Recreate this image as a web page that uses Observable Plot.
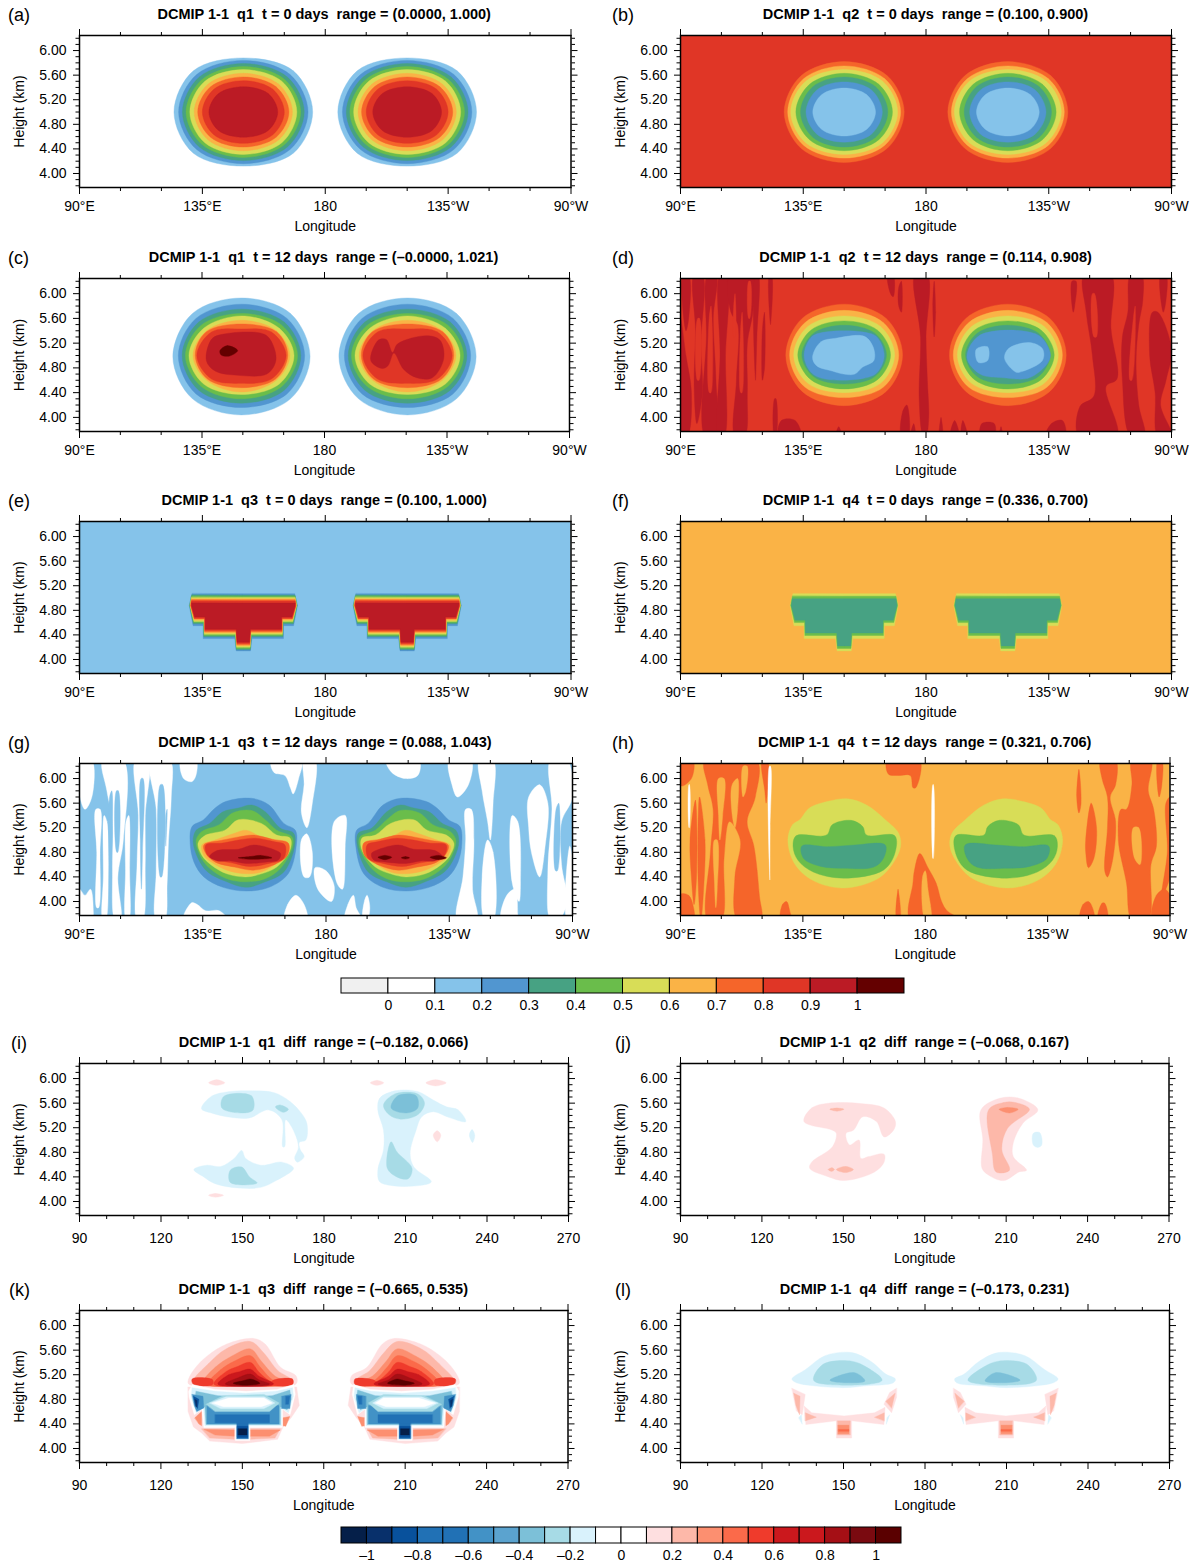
<!DOCTYPE html>
<html><head><meta charset="utf-8">
<script src="https://cdn.jsdelivr.net/npm/d3@7"></script>
<script src="https://cdn.jsdelivr.net/npm/@observablehq/plot@0.6"></script>
<style>
html,body{margin:0;padding:0;background:#fff}
#page{position:relative;width:1195px;height:1564px;font-family:"Liberation Sans",Arial,sans-serif;overflow:hidden;color:#000}
#page>div.t{position:absolute;white-space:pre;transform:translate(-50%,-50%);font-weight:bold;font-size:14.5px}
#page>div.l{position:absolute;white-space:pre;transform:translateY(-50%);font-size:18px}
#page>svg,#page>figure{position:absolute;margin:0}
</style></head><body><div id="page"></div>
<script>
// ---- colour levels ----
const mixBreaks=[-0.1,0,0.1,0.2,0.3,0.4,0.5,0.6,0.7,0.8,0.9,1,1.1];
const mixColors=["#f0f0f0","#ffffff","#85c3ea","#5196d0","#47a283","#6abd4b","#d8dd57","#fab346","#f5652a","#e03626","#bb1b25","#640000"];
const mixLabels=[0,0.1,0.2,0.3,0.4,0.5,0.6,0.7,0.8,0.9,1];
const diffBreaks=[-1.1,-1,-0.9,-0.8,-0.7,-0.6,-0.5,-0.4,-0.3,-0.2,-0.1,0,0.1,0.2,0.3,0.4,0.5,0.6,0.7,0.8,0.9,1,1.1];
const diffColors=["#051f49","#08306b","#08519c","#2171b5","#2171b5","#4292c6","#5ba3cf","#7cc0d8","#a7dbe6","#d9f2fc","#ffffff","#ffffff","#fedfe0","#fdb8a9","#fc8f70","#fb6a4a","#ef3b2c","#cb181d","#cb181d","#a50f15","#7a0a10","#5a0000"];
const diffLabels=[-1,-0.8,-0.6,-0.4,-0.2,0,0.2,0.4,0.6,0.8,1];
// ---- axes ----
const geoTicks=[90,135,180,225,270];
const geoLabels=["90°E","135°E","180","135°W","90°W"];
const geoMinor=[105,120,150,165,195,210,240,255];
const numTicks=[90,120,150,180,210,240,270];
const numMinor=[100,110,130,140,160,170,190,200,220,230,250,260];
const hTicks=[4,4.4,4.8,5.2,5.6,6];
const hMinor=[3.8,3.9,4.1,4.2,4.3,4.5,4.6,4.7,4.9,5,5.1,5.3,5.4,5.5,5.7,5.8,5.9,6.1,6.2];
const bgBox=[80,7,280,7,280,3,80,3];

// ---- contours: [level, half-outline as dlon,height from top to bottom] ----
const ringsA=[
[2,[0,5.88,18.3,5.67,25.4,5,18.3,4.33,0,4.12]],
[3,[0,5.84,17.1,5.61,23.7,5,17.1,4.39,0,4.16]],
[4,[0,5.79,16.1,5.57,22.3,5,16.1,4.43,0,4.21]],
[5,[0,5.74,15.1,5.53,21,5,15.1,4.47,0,4.26]],
[6,[0,5.69,14.1,5.5,19.6,5,14.1,4.5,0,4.31]],
[7,[0,5.63,13,5.45,18,5,13,4.55,0,4.37]],
[8,[0,5.57,12,5.41,16.7,5,12,4.59,0,4.43]],
[9,[0,5.51,10.8,5.37,15,5,10.8,4.63,0,4.49]],
[10,[0,5.41,9.1,5.3,12.6,5,9.1,4.7,0,4.59]]];
const ringsB=[
[8,[0,5.82,15.8,5.59,22,5,15.8,4.41,0,4.18]],
[7,[0,5.75,14.9,5.54,20.7,5,14.9,4.46,0,4.25]],
[6,[0,5.69,14.1,5.5,19.6,5,14.1,4.5,0,4.31]],
[5,[0,5.63,12.7,5.45,17.7,5,12.7,4.55,0,4.37]],
[4,[0,5.57,11.5,5.41,16,5,11.5,4.59,0,4.43]],
[3,[0,5.49,10,5.36,14,5,10,4.64,0,4.51]],
[2,[0,5.39,8.3,5.28,11.5,5,8.3,4.72,0,4.61]]];
const ringsC=[
[2,[0,5.93,18,5.68,25.2,4.98,18,4.3,0,4.04]],
[3,[0,5.83,16.7,5.6,23.2,5,16.7,4.38,0,4.16]],
[4,[0,5.75,15.7,5.54,21.8,5,15.7,4.44,0,4.23]],
[5,[0,5.68,14.8,5.49,20.6,5,14.8,4.5,0,4.3]],
[6,[0,5.64,13.9,5.44,19.3,5,13.9,4.54,0,4.37]],
[7,[0,5.57,12.8,5.4,17.8,5,12.8,4.6,0,4.41]],
[8,[0,5.51,13,5.38,17,5,12.5,4.62,0,4.48]],
[9,[0,5.43,11,5.38,16.4,5,11,4.62,0,4.55]]];
const coreCL=[10,[136.6,4.92,138.3,5.25,141.2,5.33,158.1,5.34,161.6,5.11,162,4.89,158.8,4.7,148.2,4.68,139.8,4.75]];
const coreCL2=[11,[141.6,5.08,144.2,5.16,148.1,5.08,144.9,4.99,142,5.01]];
const coreCR=[10,[197,4.92,199.8,5.25,202.7,5.26,205,5.05,206.9,5.19,217.5,5.32,222.4,5.25,223.8,4.95,219.6,4.64,213.9,4.64,209,4.78,205.5,5.04,203.4,4.84,201.2,4.79]];
const ringsD=[
[8,[0,5.83,15.4,5.6,21.4,5.01,15.4,4.42,0,4.19]],
[7,[0,5.73,14.4,5.53,20,5.01,14.4,4.49,0,4.32]],
[6,[0,5.64,13.3,5.47,18.5,5.01,13.3,4.55,0,4.4]],
[5,[0,5.56,12.2,5.41,17,5.01,12.2,4.61,0,4.46]],
[4,[0,5.49,11.2,5.36,15.5,5.01,11.2,4.66,0,4.54]]];
const coreDL=[[3,[135.3,5,138,5.3,143,5.38,157,5.38,162,5.3,164.7,5,162,4.72,157,4.63,143,4.62,138,4.72]],
[2,[138.4,4.97,141.4,5.22,147,5.28,157.4,5.31,160.6,5.14,160.9,4.92,156.7,4.81,153.9,4.7,149.8,4.7,145.6,4.75,140,4.83]]];
const coreDR=[[3,[195,4.97,199.8,5.33,220.7,5.34,225.5,5.05,224.8,4.89,217.9,4.64,208.2,4.64,199.8,4.7]],
[2,[198.4,5.1,202.6,5.14,202.6,4.92,199.1,4.89]],
[2,[208.8,4.95,210.2,5.11,217.9,5.21,222.7,5.11,222.7,4.92,215.1,4.74,213,4.73]]];
const stepsE=[
[3,[0,5.07,18.8,5.07,19.8,4.88,18.4,4.55,14.7,4.55,14.7,4.34,3.1,4.34,2.6,4.14,0,4.14]],
[4,[0,5.05,18.9,5.05,19.7,4.88,18.3,4.58,14.6,4.58,14.5,4.37,3,4.37,2.6,4.16,0,4.16]],
[5,[0,5.03,19,5.03,19.6,4.88,18.2,4.6,14.5,4.6,14.4,4.39,2.9,4.39,2.5,4.18,0,4.18]],
[6,[0,5.01,19,5.01,19.5,4.88,18.1,4.62,14.4,4.62,14.3,4.41,2.8,4.41,2.5,4.2,0,4.2]],
[7,[0,4.99,19,4.99,19.4,4.88,18,4.64,14.3,4.64,14.2,4.43,2.7,4.43,2.4,4.22,0,4.22]],
[8,[0,4.97,19,4.97,19.3,4.88,18,4.66,14.2,4.66,14.2,4.45,2.7,4.45,2.4,4.24,0,4.24]],
[9,[0,4.95,19,4.95,19.2,4.88,17.9,4.67,14.1,4.67,14.1,4.47,2.6,4.47,2.3,4.26,0,4.26]],
[10,[0,4.92,19,4.92,18.9,4.86,17.8,4.69,14,4.69,14,4.49,2.6,4.49,2.3,4.28,0,4.28]]];
const stepsF=[[6,stepsE[0][1]],[5,stepsE[2][1]],[4,stepsE[4][1]]];

// streak patches: full outlines in lon,height
const streaksD=[
[90,3.7,92.5,3.7,94,4.4,92,5,90,5.6],[91,6.3,93,6.3,93,5.6,92,5.4],
[95,6.3,98,6.3,97.5,5.2,98,4.4,96,3.9,95,4.5,95.5,5.4],
[99,3.7,103,3.7,103,4.6,102,5.6,103,6.3,100,6.3,99.5,5.3],
[104.5,6.3,107,6.3,106.5,5,106,3.7,104,3.7,104.5,5],
[108,6.3,116.5,6.3,116.5,5.7,114.5,5.2,114.5,4.4,113.5,3.7,110,3.7,110.5,4.6,111,5.5,108.5,5.7],
[117.5,6.3,118.5,6.3,118,5.3,117.5,4.6],[120,5.4,120.8,5.7,120.8,4.8,120,4.6],
[122.6,6.3,123.4,6.3,123,5.5],[124.5,4.3,125,4.3,125,3.7,124.4,3.7],
[126,3.7,127,3.95,132,3.95,134,3.7],[147,3.7,148,3.85,149,3.7],
[166,6.3,168,6.3,168,5.95,167,6],[170,6.1,171,6.2,171,5.7,170,5.8],
[176,6.3,180.5,6.3,180,5.3,180.5,4.6,181,4,180,3.7,179,3.7,177.5,4.3,178,5.3],
[171,3.7,171.5,4.1,173,4.2,173.5,3.7],[174.5,3.7,175.5,3.9,176,3.7],
[183,6.2,183.5,5.7,183,5.3,182.5,5.8],[185,3.7,185.5,4,186,3.7],[189,3.7,190.5,3.95,192,3.7],[193,3.7,193.5,3.95,195,3.7],
[200,3.7,200.5,3.9,205,3.9,205,3.7],[207,3.7,207.5,3.85,208,3.7],[224,3.7,226,3.9,230,3.95,231,3.7],
[233.5,6.2,235,6.2,234.5,5.8,234,5.7],
[238,6.3,247.8,6.3,247.8,5.44,250,4.62,246,4.5,250,3.7,236,3.7,236.5,4.18,241.5,4.34,241,5,238.7,5.71],
[255,6.3,259,6.3,259.5,5.9,258,5.5,257,4.9,258,4.2,260,3.7,255,3.7,252,4.6,252,5.3,254,5.7],
[263,5.7,265,5.7,270,5.1,268,4.6,266,4.2,270,3.7,265,3.7,264,4.4,262,5],
[266,6.3,268,6.3,268,5.9,267,5.7]];
const holesD=[[100.5,5.6,101.2,5.8,101.2,4.4,100.6,4.4],[109.5,5.8,110,6,110,5.3,109.5,5.3],[112,5.4,112.6,5.7,112.6,4.4,112.1,4.4],[115,6.2,115.6,6.2,115.4,5.6,115,5.6],[241,6,241.8,6,242.5,5.3,241.6,5.3],[96.3,5.6,97,5.6,96.8,4.6,96.2,4.6],[256,5.6,256.7,5.8,255.5,4.6,254.8,4.6]];
const whitesG=[
[90.5,6.3,94.5,6.3,94.5,5.7,92,5.5,90,5.75],[98.5,6.3,106,6.3,106,5,104,4.4,105,3.7,103,3.7,102,4.5,102,5.3,100,5.8],
[96,5.5,97.5,5.5,97.5,4.8,97,3.9,96.3,3.9,96.3,4.8],[99,5.4,100,5.3,100.5,4.4,99.5,3.7,98.5,3.7,98.7,4.4],
[107,5.3,108,5.4,108.3,4.5,108,3.7,107,3.7,106.8,4.5],[110.5,6.3,115,6.3,114,5.4,114,4.6,113,3.7,111,3.7,111,4.6,111.5,5.4],
[116,6.3,123,6.3,123.5,5.7,122.5,5,122,4.3,121,3.7,118,3.7,118,4.5,118,5.5],[127,6.3,132.5,6.3,132.5,6.05,131,5.95,128,6],
[90,4.2,92,4.1,94,4.2,95,3.9,94.5,3.7,90,3.7],[128,3.7,131,3.98,133,3.95,136,3.85,141,3.85,144,3.7],
[160,6.3,171,6.3,170,6,168,5.75,167,5.85,165,6.05,161,6.1],[172,6.3,176,6.3,175,5.6,173,5.2,171,5.45,172,5.9],
[171,5,173,5.1,175,4.8,174,4.4,172,4.4],[183,5.3,187,5.4,187,4.9,186,4.2,184,4.3],[176,4.55,180,4.5,183,4.25,182,4,177,4.2],
[165,3.7,166,3.95,169,4.1,172,3.95,173,3.7],[202,6.3,214,6.3,213.5,6.05,209,6,204,6.1],[187,3.7,188,3.95,190,4.1,191,3.9,193,3.7],
[194,4,195,4.1,196,3.9,195,3.7,193.5,3.7],[225,6.3,233,6.3,232,5.9,228,5.7,226,5.9],[231,5.5,233,5.5,234,5,233.5,4.2,235,3.7,228,3.7,230,4.4,231,5],
[236,6.3,241,6.3,241,5.6,240,5,239,5.3,237,5.8],[239,5,241,4.8,241,3.7,238,3.7,237,4.4],[246,4.1,249,4.2,250,3.8,250,3.7,244,3.7],
[254,5.7,258,5.9,261,5.6,260,4.9,258,4.4,255,4.8,254,5.2],[262,6.3,268,6.3,270,5.7,266,5.3,266,4.6,268,4,265,3.7,262,3.7,261,4.5,262.5,5.5],
[248,5.4,250,5.3,251,4.3,250.5,4,248,4.3],[269,4.9,270,4.7,270,3.7,268,3.7]];
const blueG=[[101,5.7,101.8,5.8,101.8,4.6,101.3,3.9,100.8,4.6],[103.5,5.8,104.2,5.8,104,4.8,103.6,4.8],[112.5,6,113.2,6,113,4.8,112.6,4.2,112.2,5],[119.5,5.9,120.4,5.9,120,4.4,119.5,4.4],[121.5,5.4,122,5.5,121.5,4.9],[264,5.5,265,5.6,264.5,4.5,263.8,4.5]];
const ringsG=[
[3,[130.4,4.95,131.1,5.22,135.3,5.33,139.5,5.52,143.6,5.63,152.7,5.68,159.2,5.57,164.6,5.27,168.8,5.16,169.1,4.89,166.2,4.45,159.2,4.23,150.8,4.17,142.4,4.23,135.4,4.4,131.8,4.64]],
[4,[131.5,4.97,132.6,5.16,137.5,5.27,142.4,5.46,148,5.52,152.9,5.57,157.8,5.46,163.4,5.19,168.2,5.11,168.5,4.89,164.6,4.48,157.8,4.32,150.8,4.23,143.8,4.32,136.8,4.48,133.3,4.7]],
[5,[132.6,5,134.7,5.14,141,5.25,145.9,5.44,152.9,5.48,157.8,5.33,162,5.16,167.6,5.05,167.8,4.89,163.4,4.54,157.8,4.37,150.8,4.32,143.8,4.37,137.5,4.54,134,4.75]],
[6,[133.3,4.95,136.1,5.08,143.1,5.16,148,5.33,156.4,5.27,162,5.08,166.9,5.03,166.9,4.84,162,4.56,156.4,4.45,150.8,4.4,143.8,4.45,138.2,4.59,134.7,4.75]],
[7,[134.7,4.92,139.6,5,146.6,5.11,150.8,5.16,156.4,5.05,162,5,166.2,4.95,166.2,4.78,162,4.62,156.4,4.48,150.8,4.45,143.8,4.51,138.2,4.64,135.4,4.75]],
[8,[135.4,4.92,142.4,5,148,5.05,153.6,5.08,160.6,5.01,166.2,4.95,165.9,4.75,160.6,4.59,153.6,4.51,146.6,4.56,139.6,4.64,136.1,4.78]],
[9,[136.1,4.92,142.4,4.95,148,5,154.3,5.03,161.3,4.97,165,4.92,164.5,4.7,159.2,4.62,152.2,4.57,146.6,4.62,141,4.67,136.8,4.75]],
[10,[137.5,4.73,140.3,4.83,148,4.85,153.6,4.92,160.6,4.85,163.4,4.78,162.7,4.68,157.8,4.64,150.8,4.62,145.2,4.66,140.3,4.66]]];
const spotGL=[11,[148,4.71,152.2,4.73,156.4,4.75,160.3,4.71,156.4,4.69,150.8,4.69]];
const spotGR=[[11,[199,4.72,201.5,4.75,204,4.72,201.5,4.68]],[11,[207.5,4.71,209,4.73,210.5,4.71,209,4.69]],[11,[218,4.72,221,4.75,224,4.71,221,4.68]]];
const streaksH=[
[90,6.3,94.6,6.3,94,6,90.3,5.88],[90,4.12,93,4.1,94.8,3.9,94.8,3.7,90,3.7],[93.5,5,95.5,5.65,96,4.5,95,3.95,94,4.4],
[97,5.7,99,5,98.5,4.2,97.5,3.7,96.5,4.3],
[99,6.3,118,6.3,117.5,5.7,114.5,5.3,117,4.9,119,4.1,119.5,3.7,111,3.7,110,4.4,112,5,108,5.3,106,4.7,105,3.7,100,3.7,101,4.8,102,5.5,100,5.9],
[120,6.3,122,6.3,121.5,5.6,121,5.8],[127,3.7,127.5,3.95,129,4,131,3.75,133,3.7],
[166,6.3,178,6.3,176.5,5.85,175.5,5.85,174.5,6.05,170,6.05,166.5,6.07],
[174.5,3.7,175.5,4.3,176,4.5,178,4.78,181,4.55,184,4.3,186,4,188,3.85,193,3.7],[169.5,3.7,170,4.2,170.7,3.7],
[235.7,5.7,236.5,6.15,237.3,5.6,236.5,5.44],[239,5,241,5.6,243,5.2,242,4.7,240,4.55,239,4.8],
[244.5,6.3,250,6.3,250,5.9,248,5.7,250,5.3,249,4.7,247,4.4,246,4.5,247,5.2,247,5.7,245,6],
[237,3.7,238,3.95,240,4,241.5,3.9,242,3.7],[243.5,3.7,245,3.97,246,3.97,247,3.7],
[256,6.3,263,6.3,262,5.8,264,5.5,265,4.9,263,4.6,262,3.7,256,3.7,254,4.3,251,5,252,5.5,254,5.5,256,5.9],
[265.5,6.3,267,6.3,267,5.9,266,5.7],[268.5,5.6,270,5.7,270,4.4,267,4.1,269,4.8],[263.5,3.7,265,4.1,268,4.2,270,4.1,270,3.7]];
const holesH=[[104,6,106,6,105.5,5.4,104.5,5,104,5.4],[109,5.9,111,6,111,5.5,110,5.2,108.8,5.5],[102.5,5,103.5,5,103.5,4.2,103,3.9,102.5,4.3],
[113,6.2,114.5,6.2,114,5.8,113,5.7],[107.5,4.8,108.5,4.8,108.5,3.95,107.5,3.95],[179,4.4,180,4.5,181,4.2,182,3.7,180,3.7],[256.5,5.2,258.5,5.2,259,4.6,257,4.7]];
const linesH=[[93.1,5.9,93.3,5.9,93.25,5.2,93.15,5.2],[122.7,6.2,123.1,6.2,122.95,5.2,122.85,4.35],[182.8,5.9,183,5.9,182.95,4.7,182.85,4.7]];
const ringsH=[
[6,[129.5,5,131.2,5.25,133.9,5.33,137.4,5.52,144.4,5.63,151.4,5.67,158.4,5.57,165.3,5.33,170.2,5.11,170.9,4.89,168.1,4.62,162.5,4.37,150,4.22,138.8,4.34,131.9,4.62]],
[5,[131.4,4.89,132.5,5.07,143.7,5.08,145.8,5.25,152.8,5.32,157,5.22,158.4,5.08,168.8,5.07,168.8,4.78,164.6,4.51,150,4.38,138.8,4.48,133.2,4.67]],
[4,[134.6,4.9,144.4,4.89,154.2,4.92,165.3,4.92,164.6,4.7,161.1,4.56,150,4.54,141.6,4.57,135.3,4.7]]];
const diffI=[
[9,[134.9,5.51,138.5,5.71,145.5,5.79,154,5.8,161.7,5.77,167.4,5.63,171.6,5.44,173.7,5.27,173.3,5,170.9,4.96,171.3,4.84,172.7,4.73,170.2,4.64,169.2,4.7,170.6,4.89,168,5.22,165.9,5.33,165.5,4.89,164.8,4.89,164.5,5.33,159.6,5.49,152.6,5.36,145.5,5.37,138.5,5.44]],
[8,[143.1,5.71,153.3,5.72,153.9,5.49,149.7,5.44,142.4,5.52]],[8,[162.1,5.54,163.8,5.57,166.9,5.5,165,5.45]],
[9,[132.1,4.52,136.9,4.59,142,4.57,146.9,4.7,149.7,4.83,151.2,4.7,156.8,4.59,164.5,4.64,168.8,4.54,162.4,4.34,156.8,4.23,148.3,4.22,139.9,4.29,135.7,4.4]],
[8,[145.5,4.51,149.7,4.56,152.6,4.4,155.4,4.3,145.5,4.31]],
[9,[199.8,5.49,200.5,5.68,206.1,5.8,214.5,5.79,220.2,5.65,225.1,5.54,229.4,5.49,232.2,5.3,225.8,5.37,220.2,5.46,216,5.38,213.9,5.16,211.7,4.78,213.1,4.56,219.5,4.32,213.1,4.25,204.7,4.26,200.5,4.32,199.8,4.51,201.9,4.84,201.9,5.16]],
[8,[201.9,5.57,206.1,5.75,214.5,5.75,217,5.6,214.5,5.41,208.2,5.34,204,5.41]],[7,[204.7,5.52,207.2,5.72,213.9,5.72,214.5,5.52,210.3,5.44]],
[8,[204.7,4.97,206.8,4.81,212.4,4.54,211,4.37,206.8,4.4,203.3,4.54]],
[12,[137.5,5.93,140.5,5.98,143.5,5.93,140.5,5.89]],[12,[137.5,4.1,140,4.13,143,4.1,140,4.07]],[12,[197,5.93,199.5,5.97,202,5.93,199.5,5.89]],
[12,[217.5,5.93,221,5.98,225,5.93,221,5.88]],[12,[220.2,5.08,221.7,5.15,223,5.08,221.7,4.97]],[9,[233.5,5.08,234.5,5.17,235.5,5.08,234.7,4.96]]];
const diffJ=[
[12,[135.5,5.3,138.3,5.52,144.6,5.6,157.2,5.59,165,5.52,169.2,5.3,168.5,5.16,165,5.05,162.2,5.3,157.2,5.38,153.7,5.16,151,5.11,152.3,4.92,155.8,5,156.5,4.7,159.3,4.73,165,4.77,165,4.64,161.5,4.48,150.2,4.34,144.6,4.4,137.6,4.54,138.3,4.64,146,4.89,147.4,5.11,146,5.16]],
[13,[145,5.5,147.7,5.52,150.2,5.5,147.7,5.47]],[13,[144.4,4.52,145.8,4.55,146.7,4.52,145.8,4.49]],[13,[147.4,4.52,150.8,4.57,153.7,4.52,150.8,4.47]],
[12,[200.7,5.49,207.7,5.68,214.7,5.68,221.7,5.49,216.1,5.27,212.6,4.95,212.6,4.73,217.5,4.51,214.7,4.48,209.1,4.34,203.5,4.43,201.1,4.54,201.4,5]],
[13,[203.5,5.49,209.1,5.61,213.3,5.61,218.6,5.5,210.5,5.19,208.4,4.84,211.2,4.51,206.3,4.48,204.9,4.78]],
[14,[207.4,5.5,210.5,5.53,214.4,5.5,211.2,5.44]],[9,[220,5.11,222.4,5.12,223.1,4.92,221.7,4.88,220,4.92]]];
const diffKtop=[
[12,[130.2,5.05,130.2,5.13,133,5.33,137.2,5.51,144.3,5.7,154.2,5.79,158.4,5.7,164.1,5.32,169.8,5.18,169.8,5.05,150,5]],
[13,[132,5.08,137.5,5.38,144,5.62,153,5.74,158,5.55,163,5.27,168,5.12,168,5.04,150,5]],
[14,[135.5,5.06,140,5.32,146,5.5,153,5.62,157,5.42,162,5.18,167,5.08,167,5.03,150,4.99]],
[15,[137.5,5.05,142,5.28,147,5.42,153,5.51,156.5,5.33,161,5.12,165,5.05,150,4.99]],
[16,[139.5,5.05,144,5.25,148,5.33,153,5.4,156,5.25,160,5.1,163.8,5.05,150,5]],
[16,[131.5,5.13,139,5.12,139,5.04,132,5.04]],[16,[161,5.1,168.5,5.13,168.5,5.04,161,5.04]],
[17,[141,5.05,145,5.2,149,5.25,153,5.29,156,5.18,161.5,5.05,150,5]],
[19,[143.7,5.05,149,5.16,153,5.21,156,5.12,160,5.05,150,5.01]],
[21,[146.6,5.06,151,5.11,153,5.13,156.5,5.06,150,5.03]]];
const diffKlow=[
[12,[130,5,170,5,171,4.7,168,4.5,165,4.35,163,4.15,150,4.08,138,4.12,135,4.25,132,4.35,130,4.6]],
[13,[135,4.32,147,4.32,147,4.15,138,4.17]],[13,[153,4.32,164,4.32,162,4.17,153,4.15]],
[14,[132.5,4.5,135,4.6,135,4.37,134,4.4]],[14,[165,4.5,167.5,4.52,166,4.36,165,4.37]],[14,[136,4.31,147,4.3,147,4.2,140,4.22]],[14,[153,4.3,164,4.3,160,4.2,153,4.2]],
[10,[130.2,4.93,131.6,5.04,140,4.96,151.4,4.93,162.7,4.96,169,5.04,169.5,4.88,167.6,4.55,164.8,4.64,164.8,4.34,152.8,4.34,152.8,4.13,147.4,4.13,147.4,4.34,135.8,4.34,135.1,4.64,132.3,4.55,130.4,4.83]],
[9,[131.5,4.99,140,4.93,151,4.9,162.5,4.93,168.5,4.99,168.8,4.85,167,4.58,164.4,4.66,164.4,4.37,152.4,4.37,152.4,4.15,147.8,4.15,147.8,4.37,136.2,4.37,135.7,4.66,133,4.58,131.2,4.83]],
[7,[133,4.93,141,4.86,150,4.84,161,4.86,167.5,4.95,168,4.8,166.5,4.63,164,4.68,164,4.39,136.6,4.39,136.2,4.68,134,4.63,132.5,4.83]],
[5,[137,4.7,163.5,4.7,163.5,4.4,137,4.4]],[4,[140,4.55,160,4.55,160,4.42,140,4.42]],
[8,[136.6,4.72,143,4.86,158,4.88,163.6,4.74,160,4.6,140,4.6]],[9,[138,4.74,144,4.84,158,4.84,162,4.74,158,4.65,142,4.65]],[10,[139,4.74,145,4.82,158,4.82,161,4.74,157,4.68,143,4.68]],
[5,[131.5,4.88,135.5,4.85,135.8,4.66,133.2,4.6,132.3,4.7]],[2,[132,4.85,134,4.8,133.5,4.65,132.8,4.7]],[1,[132.5,4.8,133.3,4.78,133.2,4.68,133,4.68]],
[5,[164.5,4.85,168,4.88,167.5,4.65,164.5,4.65]],[3,[166,4.85,167.5,4.85,167,4.72,166,4.72]],
[4,[148,4.42,152.2,4.42,152.2,4.16,148,4.16]],[2,[148.2,4.36,152,4.36,152,4.18,148.2,4.18]],[0,[148.5,4.32,151.7,4.32,151.7,4.22,148.5,4.22]]];
const diffLtop=[
[9,[131,5.13,136.2,5.29,143.2,5.51,153,5.56,160,5.42,165.6,5.21,169.1,5.13,168.4,5.07,158.6,5.02,150.2,4.99,139,5.02,132.7,5.07]],
[8,[139,5.11,142.5,5.37,153,5.42,158.6,5.32,164.2,5.11,150.2,5.03]],[7,[145,5.11,148.1,5.18,154.4,5.23,157.9,5.1,150.2,5.07]]];
const diffLlow=[
[12,[131,4.98,135.9,4.88,134.8,4.55,132.7,4.61]],[12,[169.5,4.98,167,4.91,164.9,4.72,167.7,4.58,169.5,4.83]],
[12,[135.5,4.69,138.3,4.58,150.2,4.53,161.4,4.58,165.3,4.67,164.9,4.39,153,4.45,153,4.17,147.4,4.17,147.4,4.45,136.2,4.39]],
[13,[131.7,4.9,134,4.85,133.8,4.55,132.5,4.7]],[13,[136,4.58,140,4.51,136,4.45]],[13,[161.5,4.51,165,4.58,165,4.45]],[13,[165.6,4.77,169,4.9,167.7,4.66]],
[13,[147.8,4.45,152.5,4.45,152.5,4.22,147.8,4.22]],[14,[148,4.38,152,4.38,152,4.24,148,4.24]],[15,[148.2,4.31,152,4.31,152,4.28,148.2,4.28]],
[9,[133.5,4.5,134.5,4.55,134.8,4.4]],[9,[166,4.5,167,4.55,165.8,4.4]]];

// ---- helpers ----
const pts=f=>{const o=[];for(let i=0;i<f.length;i+=2)o.push({lon:f[i],h:f[i+1]});return o;};
const ring=(half,c)=>{const o=[];for(let i=0;i<half.length;i+=2)o.push(c+half[i],half[i+1]);for(let i=half.length-2;i>=0;i-=2)if(half[i]!==0)o.push(c-half[i],half[i+1]);return o;};
const at=(rings,centers)=>centers.flatMap(c=>rings.map(([k,h])=>[k,ring(h,c)]));
const mirror=(flat)=>flat.map((v,i)=>i%2?v:360-v);
const both=(list)=>[...list,...list.map(([k,f])=>[k,mirror(f)])];
const flatList=(k,list)=>list.map(f=>[k,f]);
const C=[150,210];

const panels=[
{id:"(a)",lx:8,x0:78.5,x1:570,y0:35,y1:187,kind:"geo",title:"DCMIP 1-1  q1  t = 0 days  range = (0.0000, 1.000)",pal:mixColors,smooth:at(ringsA,C)},
{id:"(b)",lx:612,x0:680,x1:1171,y0:35,y1:187,kind:"geo",title:"DCMIP 1-1  q2  t = 0 days  range = (0.100, 0.900)",pal:mixColors,bg:9,smooth:at(ringsB,C)},
{id:"(c)",lx:8,x0:78.5,x1:568.5,y0:278,y1:431,kind:"geo",title:"DCMIP 1-1  q1  t = 12 days  range = (–0.0000, 1.021)",pal:mixColors,smooth:[...at(ringsC,[149.5,210.5]),coreCL,coreCL2,coreCR]},
{id:"(d)",lx:612,x0:680,x1:1171,y0:278,y1:431,kind:"geo",title:"DCMIP 1-1  q2  t = 12 days  range = (0.114, 0.908)",pal:mixColors,bg:9,soft:[...flatList(10,streaksD),...flatList(9,holesD)],smooth:[...at(ringsD,C),...coreDL,...coreDR]},
{id:"(e)",lx:8,x0:78.5,x1:570,y0:521,y1:673,kind:"geo",title:"DCMIP 1-1  q3  t = 0 days  range = (0.100, 1.000)",pal:mixColors,bg:2,sharp:at(stepsE,C)},
{id:"(f)",lx:612,x0:680,x1:1171,y0:521,y1:673,kind:"geo",title:"DCMIP 1-1  q4  t = 0 days  range = (0.336, 0.700)",pal:mixColors,bg:7,sharp:at(stepsF,C)},
{id:"(g)",lx:8,x0:78.5,x1:571.5,y0:763,y1:915,kind:"geo",title:"DCMIP 1-1  q3  t = 12 days  range = (0.088, 1.043)",pal:mixColors,bg:2,soft:[...flatList(1,whitesG),...flatList(2,blueG)],smooth:[...both(ringsG),spotGL,...spotGR]},
{id:"(h)",lx:612,x0:680,x1:1169.5,y0:763,y1:915,kind:"geo",title:"DCMIP 1-1  q4  t = 12 days  range = (0.321, 0.706)",pal:mixColors,bg:7,soft:[...flatList(8,streaksH),...flatList(7,holesH),...flatList(1,linesH)],smooth:both(ringsH)},
{id:"(i)",lx:11,x0:79,x1:568,y0:1063,y1:1215,kind:"num",title:"DCMIP 1-1  q1  diff  range = (–0.182, 0.066)",pal:diffColors,smooth:diffI},
{id:"(j)",lx:615,x0:680,x1:1168.5,y0:1063,y1:1215,kind:"num",title:"DCMIP 1-1  q2  diff  range = (–0.068, 0.167)",pal:diffColors,smooth:diffJ},
{id:"(k)",lx:9,x0:79,x1:567.5,y0:1310,y1:1462,kind:"num",title:"DCMIP 1-1  q3  diff  range = (–0.665, 0.535)",pal:diffColors,soft:both(diffKtop),sharp:both(diffKlow)},
{id:"(l)",lx:615,x0:680,x1:1169,y0:1310,y1:1462,kind:"num",title:"DCMIP 1-1  q4  diff  range = (–0.173, 0.231)",pal:diffColors,soft:both(diffLtop),sharp:both(diffLlow)}
];

const page=document.getElementById("page");
const addDiv=(cls,x,y,txt)=>{const d=document.createElement("div");d.className=cls;d.style.left=x+"px";d.style.top=y+"px";d.textContent=txt;page.appendChild(d);};
const font={fontFamily:'"Liberation Sans",Arial,sans-serif',fontSize:"14px",color:"#000",background:"transparent",overflow:"visible"};

for(const p of panels){
  const ml=70,mr=30,mt=10,mb=52;
  const geo=p.kind==="geo";
  const tick=geo?geoTicks:numTicks;
  const minor=geo?geoMinor:numMinor;
  const fmt=geo?(d=>geoLabels[geoTicks.indexOf(d)]):(d=>String(d));
  const layer=(k,f,curve)=>Plot.line(pts(f),{x:"lon",y:"h",fill:p.pal[k],stroke:p.pal[k],strokeWidth:0.4,curve,clip:true});
  const marks=[];
  if(p.bg!==undefined) marks.push(layer(p.bg,bgBox,"linear-closed"));
  for(const [k,f] of (p.soft||[])) marks.push(layer(k,f,"catmull-rom-closed"));
  for(const [k,f] of (p.sharp||[])) marks.push(layer(k,f,"linear-closed"));
  for(const [k,f] of (p.smooth||[])) marks.push(layer(k,f,"catmull-rom-closed"));
  marks.push(
    Plot.axisX(minor,{anchor:"bottom",tickSize:4,tickFormat:()=>"",label:null}),
    Plot.axisX(minor,{anchor:"top",tickSize:4,tickFormat:()=>"",label:null}),
    Plot.axisX(tick,{anchor:"top",tickSize:7,tickFormat:()=>"",label:null}),
    Plot.axisX(tick,{anchor:"bottom",tickSize:7,tickPadding:geo?7:10.5,tickFormat:fmt,label:"Longitude",labelAnchor:"center",labelArrow:"none",labelOffset:geo?43:47}),
    Plot.axisY(hMinor,{anchor:"left",tickSize:3.5,tickFormat:()=>"",label:null}),
    Plot.axisY(hMinor,{anchor:"right",tickSize:3.5,tickFormat:()=>"",label:null}),
    Plot.axisY(hTicks,{anchor:"right",tickSize:6,tickFormat:()=>"",label:null}),
    Plot.axisY(hTicks,{anchor:"left",tickSize:6,tickPadding:7,tickFormat:d=>d.toFixed(2),label:"Height (km)",labelAnchor:"center",labelArrow:"none",labelOffset:65}),
    Plot.frame({stroke:"#000",strokeWidth:1.5,fill:"none"})
  );
  const svg=Plot.plot({
    width:p.x1-p.x0+ml+mr,height:p.y1-p.y0+mt+mb,
    marginLeft:ml,marginRight:mr,marginTop:mt,marginBottom:mb,
    x:{domain:[90,270]},y:{domain:[3.772,6.245]},style:font,marks});
  svg.style.left=(p.x0-ml)+"px";svg.style.top=(p.y0-mt)+"px";
  page.appendChild(svg);
  addDiv("t",(p.x0+p.x1)/2,p.y0-21.5,p.title);
  addDiv("l",p.lx,p.y0-20.5,p.id);
}

function colorbar(breaks,colors,labels,x0,x1,y0,y1,fmt){
  const ml=5,mr=5,mb=24,mt=2;
  const boxes=colors.map((c,i)=>({a:breaks[i],b:breaks[i+1],c}));
  const svg=Plot.plot({width:x1-x0+ml+mr,height:y1-y0+mt+mb,marginLeft:ml,marginRight:mr,marginTop:mt,marginBottom:mb,
    x:{domain:[breaks[0],breaks[breaks.length-1]]},y:{domain:[0,1],axis:null},style:font,
    marks:[
      ...boxes.map(d=>Plot.rect([d],{x1:"a",x2:"b",y1:()=>0,y2:()=>1,fill:d.c,stroke:"#000",strokeWidth:1})),
      Plot.axisX(labels,{anchor:"bottom",tickSize:0,tickPadding:7,tickFormat:fmt,label:null})
    ]});
  svg.style.left=(x0-ml)+"px";svg.style.top=(y0-mt)+"px";
  page.appendChild(svg);
}
colorbar(mixBreaks,mixColors,mixLabels,341,904,978,993,d=>String(d));
colorbar(diffBreaks,diffColors,diffLabels,341,901,1527,1543,d=>String(d).replace("-","–"));
</script></body></html>
